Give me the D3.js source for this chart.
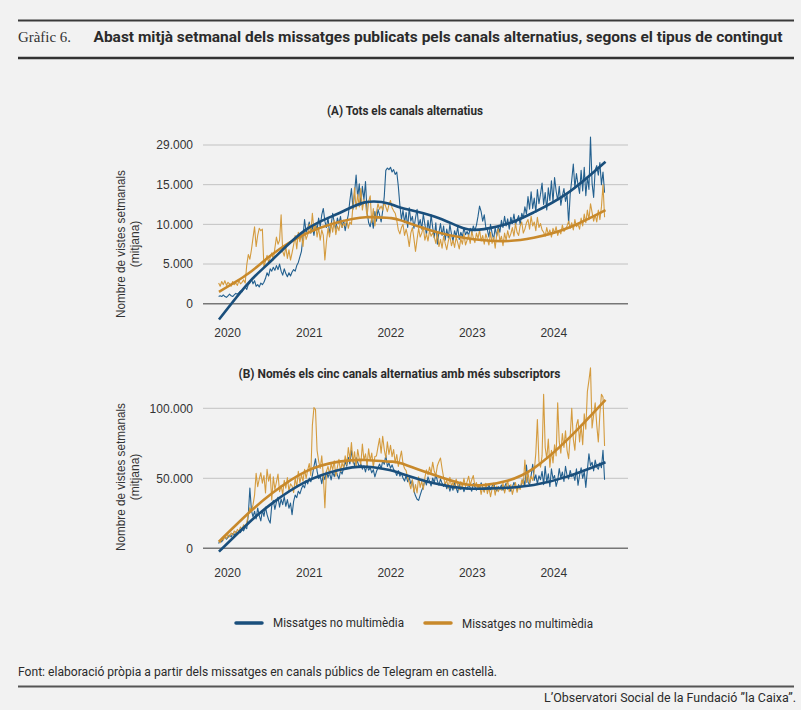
<!DOCTYPE html>
<meta charset="utf-8">
<style>
body { margin: 0; background: #f2f2f2; }
svg { display: block; }
.tick text { font-family: "Liberation Sans", Arial, sans-serif; font-size: 12px; fill: #333; }
</style>
<svg width="801" height="710"></svg>
<script src="https://d3js.org/d3.v7.min.js"></script>
<script>

// weekly series, values in thousands of views
var startDate = new Date(2019, 10, 24);
var years = [2020, 2021, 2022, 2023, 2024];

var yTicksA = [0, 5, 10, 15, 20];
var yLabelsA = ["0", "5.000", "10.000", "15.000", "29.000"];
var yTicksB = [0, 50, 100];
var yLabelsB = ["0", "50.000", "100.000"];

var seriesNames = ["Missatges no multimèdia", "Missatges no multimèdia"];

var aBlue = [0.9,1.0,0.9,1.1,0.9,0.8,1.0,1.2,1.0,0.9,1.1,1.3,1.2,
  1.4,1.6,1.5,1.9,2.1,1.8,2.4, 2.6,3.1,2.5,2.9,2.2,2.4,2.1,2.6,
  2.4,2.7,3.2,3.9,3.5,4.4,4.1,4.6,4.2, 4.8,4.3,5.0,4.1,3.6,4.4,3.8,3.4,3.9,3.5,
  4.0,4.3,4.1,4.8,5.2,5.9, 6.6,8.5,10.6,9.0, 9.5,10.3,8.9,9.8,8.6,10.1,9.3,10.8,9.7,
  11.2,12.0,10.4,9.6,10.9,8.8,9.9,11.4,10.2,9.4,10.8, 10.1,11.0,9.6,10.5,9.2,10.3,11.2,13.0,14.5,11.9,
  14.0,16.2,13.4,15.1,12.4,14.8,13.1,15.4,11.6,10.2, 9.7,10.8,9.5,11.6,10.4,11.9,
  11.2,10.3,11.7,13.5, 16.8,17.1,16.9,17.2,16.6,16.9,16.3,16.6, 14.8,12.4,10.6,
  11.8,10.2,11.5,9.6,12.1,10.4,11.0,9.5,10.8,11.9,9.8,10.6,
  9.4,11.3,10.0,8.7,10.5,9.1,11.2,9.6,8.3,10.2,7.5,9.0,10.1,
  8.6,9.8,8.0,9.4,8.3,10.0,8.8,7.9,9.2,8.5,9.7,8.1,9.0,8.4,9.6,8.7,
  9.1,8.6,9.5,8.9,9.8,9.2,9.9, 11.0,12.3,11.6,10.4,11.2,9.6, 9.3,8.4,10.0,8.9,8.1,9.6,8.5,9.8,9.0,
  10.5,9.6,11.0,9.8,10.7,9.4,10.9,10.1,11.3,9.9,10.6,11.1,10.0,11.4,
  10.8,12.2,11.3,13.5,11.9,14.1,12.0,13.3,11.5,14.4,12.6,
  13.8,15.2,12.5,14.0,11.8,14.6,13.0,15.5,12.8,15.9, 14.2,13.0,14.8,12.4,13.6,14.5,12.9,13.8,10.1,
  13.8,15.6,17.6,14.6,16.4,15.0,13.9,16.8, 14.2,17.2,13.6,16.0,14.4, 21.0,
  15.2,13.4,16.9,17.4,16.2,17.8,15.0,16.6,14.0];

var aGold = [2.6,2.2,2.8,2.4,2.9,2.3,2.7,2.5,2.2,2.8,2.4,2.6,2.3,2.9,2.5,2.7,3.0,2.6,
  4.9,6.2,5.6,6.8,8.3,9.7,7.2,8.6,9.5,9.2,9.4,4.6, 5.4,6.1,5.2,5.8,6.4,5.5,7.0,
  8.4,7.5,8.0,11.2,6.6, 6.0,7.2,5.7,6.8,5.5,6.4, 7.4,8.6,6.9,9.0,7.8,8.8,7.2,9.3,8.1,
  8.7,10.0,8.9,11.4,9.2, 10.1,8.4,9.6,8.0,9.3,8.6,5.5, 7.8,9.5,8.4,10.2,9.0,10.5,8.7,9.8,9.2,
  10.4,9.6,10.1,9.8,10.6,9.5,10.3,10.0, 12.4,14.6,11.9,13.8,12.2,14.5,11.8,13.1,
  12.6,11.0,12.9,13.6,10.2,12.0,9.8,11.5, 12.6,11.9,12.3,11.8,12.8,12.2,11.6,12.5,13.0,12.1,11.7,
  11.4,10.5,9.3,8.8,9.6, 10.0,8.6,9.4,8.5,7.2,8.9,9.6,8.2,
  6.6,8.1,9.5,8.4,8.9,9.7,8.0,8.8,7.9,9.2,8.5,8.9,
  8.4,7.6,8.9,7.2,8.1,7.0,8.5,7.6,6.8,7.9,8.6,7.3,8.0,7.1,8.4,7.7,6.9,8.2,7.5,8.8,7.4,
  8.0,8.7,7.6,9.1,8.3,7.7,8.9,8.2,9.3,7.9,8.6,7.5,8.8,
  8.1,7.4,9.0,7.6,8.4,7.0,8.8,9.4,7.9,8.5,7.3,8.9,8.0,9.2,8.3,
  8.8,9.6,8.5,10.1,9.0,8.6,9.8,10.3,8.9,9.4,10.2, 10.6,9.4,11.0,9.8,10.3,9.2,10.9,9.6,10.1,9.3,
  9.0,8.5,9.6,8.7,9.3,8.4,9.5,8.9,9.7,8.6,9.2,8.8,9.9,9.1,9.4,
  9.8,10.4,9.5,10.2,9.3,10.6,9.7,10.0,9.4, 10.8,9.8,11.3,10.2,11.8,10.6,12.6,11.5,
  10.4,11.2,10.3,11.8,10.6,12.2,15.0,10.9];

var bBlue = [3.5,5.8,4.6,6.9,8.2,6.5,7.8,9.4,8.1,10.5,9.2,11.8,10.4,12.6,11.2,13.9,12.5,15.2,14.0,
  24.0,43.0,27.0,22.5, 26.5,21.0,28.8,23.4,19.6,27.2,22.8,29.5,24.1,20.4,18.0,
  30.5,34.2,27.8,33.0,36.5,29.4,35.1,31.2,37.0,30.0,34.8,28.6,32.3,
  24.0,33.5,38.0,36.2,40.8,38.9, 42.5,45.0,43.2,48.5,46.0,50.2,
  47.5,52.0,58.5,64.0,55.2,49.8,51.5,46.2,
  52.8,49.0,55.0,50.6,53.9,48.8,54.6,51.2,56.0,52.4,49.5,55.4,53.0,
  57.5,61.8,58.6,65.0,60.2,70.0,62.4,59.0,64.8,61.5,58.2,
  60.2,56.5,58.8,54.6,59.5,55.8,57.6,53.9,56.2,51.0,54.8,
  57.5,60.2,56.8,62.5,60.0,66.5,58.4,61.0,57.2,59.6,56.4,
  54.8,52.0,55.5,51.5,53.6,50.2,48.0, 52.0,47.5,50.5,46.0,48.6, 41.0,37.5,35.0,34.2,38.0,41.5,44.0,
  48.5,45.2,51.0,47.8,44.5,50.2,46.8,53.0,48.2,45.0,49.6,46.4,44.2,
  46.8,42.5,45.5,40.8,44.6,41.5,47.0,43.2,39.8,45.8,42.0,44.5,40.5,43.8,
  42.0,45.5,43.2,40.8,46.2,44.0,41.5,45.0,42.6,46.8,43.5,40.6,44.8,42.2,45.6,41.8,44.2,46.5,42.9,40.9,44.0,42.5,
  45.2,41.5,43.8,46.5,42.2,44.9,40.8,43.5,47.0,44.0,41.6,45.5,43.0,
  46.2,49.5,44.8,59.5,47.2,45.5,52.0,60.0,48.5,52.5,46.0,51.8,49.0,
  55.0,45.5,58.5,47.0,53.2,44.0,56.8,49.5,52.0,
  44.2,48.5,57.0,50.2,54.5,47.8,58.6,52.0,49.5,55.6,51.2,
  53.0,48.5,56.8,45.0,52.2,57.5,50.0,54.8,43.5,
  56.0,67.5,59.0,61.5,55.2,63.0,58.0,56.5,61.0,57.5,70.0,49.0];

var bGold = [5.5,4.0,7.2,5.8,8.5,7.0,9.6,8.2,11.0,9.5,12.4,10.8,13.5,12.0,15.2,13.6,16.8,15.0,18.5,
  24.0,29.0,26.5,31.0, 38.0,53.5,44.0,49.5,54.0,46.5,52.0,39.5,56.5,48.0,53.0,34.5,
  51.0,42.0,47.5,53.0,40.5,45.0,38.5,48.5,43.0,50.5,41.0,46.0,
  44.5,39.8,50.2,43.5,55.0,46.8,52.5,48.0,56.5,50.0,
  55.8,60.5,52.0,88.0,100.5,99.0,70.0,62.5,57.0,66.0,52.0,29.0,55.0,58.5,
  53.0,60.5,56.0,62.5,51.5,58.0,63.5,55.0,61.0,57.5,
  66.0,59.5,72.0,63.5,75.5,61.0,69.0,58.5,70.5,64.0,
  60.0,74.5,63.0,67.5,59.0,71.0,62.5,68.0,58.0,65.5,
  66.0,72.5,78.5,68.0,80.0,70.5,64.5,76.0,67.0,73.5,
  65.5,70.5,61.0,67.0,58.5,64.0,69.5,60.5,57.0,
  55.5,50.0,47.0,42.5,49.0,40.0,45.5,39.5,51.0,43.5,48.0,42.0,
  50.5,56.0,52.5,58.0,53.5,61.5,55.0,52.0,59.0,62.0,64.5,57.0,
  50.5,46.0,48.5,43.0,50.8,44.5,47.0,42.5,49.5,45.0,41.8,47.6,43.5,50.0,44.0,
  47.5,51.5,45.0,49.0,52.0,44.5,47.0,
  42.0,45.5,38.5,44.0,40.0,46.5,39.0,43.5,36.8,42.5,45.0,38.0,44.5,40.5,43.0,
  41.5,46.5,39.5,44.0,48.5,40.5,45.5,38.5,43.0,47.0,40.0,44.5,42.0,
  49.0,45.5,63.0,47.0,54.0,46.5,51.5,48.5,
  55.0,68.0,92.0,62.0,58.0,66.0,110.0,72.0,64.0,78.0,58.0,70.0,61.0,74.0,66.0,104.0,76.0,68.0,82.0,72.0,
  84.0,70.0,64.0,80.0,100.0,78.0,70.0,88.0,92.0,76.0,88.0,74.0,96.0,85.0,112.0,120.0,129.0,86.0,95.0,104.0,
  88.0,76.0,96.0,110.0,108.0,73.0];

// smoothed trends, read at these decimal years
var trendYears = [2019.90, 2020.26, 2020.55, 2020.96, 2021.37, 2021.70, 2021.99, 2022.13,
  2022.54, 2022.90, 2023.15, 2023.45, 2023.76, 2024.17, 2024.64];
var aBlueTrend = [-2.0, 2.6, 5.5, 9.3, 11.4, 12.8, 12.6, 12.1, 11.0, 9.5, 9.4, 10.1, 11.5, 13.9, 17.9];
var aGoldTrend = [1.5, 3.8, 6.2, 8.8, 10.3, 10.9, 10.8, 10.5, 9.1, 8.3, 8.0, 7.9, 8.3, 9.5, 11.8];
var bBlueTrend = [-2.4, 17.9, 32.1, 47.4, 55.9, 58.3, 55.9, 53.5, 46.4, 42.9, 42.6, 43.3, 45.2, 51.2, 61.5];
var bGoldTrend = [4.8, 25.0, 39.3, 54.8, 61.9, 63.1, 61.9, 60.7, 52.3, 46.0, 45.2, 48.5, 57.1, 77.4, 106.0];

var blue = "#23608f", blueDark = "#1a4f7c", gold = "#d49b3e", goldDark = "#c8892b";

var svg = d3.select("svg");
var font = "Roboto, 'Liberation Sans', sans-serif";

function weekDate(i) { return d3.timeDay.offset(startDate, 7 * i); }
function yearDate(y) {
  var yr = Math.floor(y), s = new Date(yr, 0, 1), e = new Date(yr + 1, 0, 1);
  return new Date(+s + (y - yr) * (e - s));
}

var x = d3.scaleTime()
  .domain([new Date(2019, 8, 15), new Date(2024, 11, 1)])
  .range([203, 628]);

// header
svg.append("line").attr("x1", 18).attr("x2", 794).attr("y1", 20.5).attr("y2", 20.5)
  .attr("stroke", "#3a3a3a").attr("stroke-width", 2);
svg.append("line").attr("x1", 18).attr("x2", 794).attr("y1", 58).attr("y2", 58)
  .attr("stroke", "#333").attr("stroke-width", 2.5);
svg.append("text").attr("x", 18).attr("y", 42)
  .attr("font-family", "'Liberation Serif', serif").attr("font-size", 15.5).attr("fill", "#333")
  .attr("textLength", 53).attr("lengthAdjust", "spacingAndGlyphs")
  .text("Gràfic 6.");
svg.append("text").attr("x", 93.5).attr("y", 42)
  .attr("font-family", font).attr("font-weight", "bold").attr("font-size", 14).attr("fill", "#2b2b2b")
  .attr("textLength", 689).attr("lengthAdjust", "spacingAndGlyphs")
  .text("Abast mitjà setmanal dels missatges publicats pels canals alternatius, segons el tipus de contingut");

function drawPanel(p) {
  var y = d3.scaleLinear().domain(p.domain).range(p.range);
  var g = svg.append("g");

  g.selectAll(".grid").data(p.ticks).enter().append("line")
    .attr("x1", 203).attr("x2", 628)
    .attr("y1", function(d) { return y(d); }).attr("y2", function(d) { return y(d); })
    .attr("stroke", function(d) { return d === 0 ? "#777" : "#c2c2c2"; })
    .attr("stroke-width", function(d) { return d === 0 ? 1.5 : 1; });

  g.selectAll(".ylab").data(p.ticks).enter().append("text")
    .attr("x", 193).attr("y", function(d) { return y(d); }).attr("dy", "0.36em")
    .attr("text-anchor", "end")
    .attr("font-family", "'Liberation Sans', Arial, sans-serif").attr("font-size", 12).attr("fill", "#333")
    .text(function(d, i) { return p.labels[i]; });

  var ax = g.append("g").attr("transform", "translate(0," + p.yearY + ")")
    .call(d3.axisBottom(x)
      .tickValues(years.map(function(d) { return new Date(d, 0, 1); }))
      .tickFormat(d3.timeFormat("%Y")).tickSize(0).tickPadding(3));
  ax.select(".domain").remove();

  [["Nombre de vistes setmanals", 125, 148], ["(mitjana)", 139, null]].forEach(function(t) {
    var tx = g.append("text")
      .attr("transform", "translate(" + t[1] + "," + p.labelY + ") rotate(-90)")
      .attr("text-anchor", "middle")
      .attr("font-family", "'Liberation Sans', Arial, sans-serif").attr("font-size", 12).attr("fill", "#333")
      .text(t[0]);
    if (t[2]) tx.attr("textLength", t[2]).attr("lengthAdjust", "spacingAndGlyphs");
  });

  g.append("text").attr("x", p.titleX).attr("y", p.titleY).attr("text-anchor", "middle")
    .attr("font-family", font).attr("font-weight", "bold").attr("font-size", 12).attr("fill", "#2b2b2b")
    .attr("textLength", p.titleW).attr("lengthAdjust", "spacingAndGlyphs")
    .text(p.title);

  var line = d3.line()
    .x(function(d, i) { return x(weekDate(i)); })
    .y(function(d) { return y(d); });
  var trend = d3.line()
    .x(function(d, i) { return x(yearDate(trendYears[i])); })
    .y(function(d) { return y(d); })
    .curve(d3.curveNatural);

  g.append("path").datum(p.blue).attr("d", line)
    .attr("fill", "none").attr("stroke", blue).attr("stroke-width", 1.1).attr("stroke-linejoin", "round");
  g.append("path").datum(p.gold).attr("d", line)
    .attr("fill", "none").attr("stroke", gold).attr("stroke-width", 1.1).attr("stroke-linejoin", "round");
  g.append("path").datum(p.goldTrend).attr("d", trend)
    .attr("fill", "none").attr("stroke", goldDark).attr("stroke-width", 2.6);
  g.append("path").datum(p.blueTrend).attr("d", trend)
    .attr("fill", "none").attr("stroke", blueDark).attr("stroke-width", 2.6);
}

drawPanel({
  domain: [0, 20], range: [303.7, 145], ticks: yTicksA, labels: yLabelsA,
  yearY: 325, labelY: 244, title: "(A) Tots els canals alternatius", titleX: 405, titleY: 115, titleW: 156,
  blue: aBlue, gold: aGold, blueTrend: aBlueTrend, goldTrend: aGoldTrend
});
drawPanel({
  domain: [0, 100], range: [548.3, 408.3], ticks: yTicksB, labels: yLabelsB,
  yearY: 565, labelY: 477, title: "(B) Només els cinc canals alternatius amb més subscriptors", titleX: 399.5, titleY: 378, titleW: 322,
  blue: bBlue, gold: bGold, blueTrend: bBlueTrend, goldTrend: bGoldTrend
});

// legend
var legend = [
  { name: seriesNames[0], color: blueDark, x: 236, ty: 627 },
  { name: seriesNames[1], color: goldDark, x: 425, ty: 628 }
];
var lg = svg.selectAll(".legend").data(legend).enter().append("g");
lg.append("line")
  .attr("x1", function(d) { return d.x; }).attr("x2", function(d) { return d.x + 26; })
  .attr("y1", 623).attr("y2", 623)
  .attr("stroke", function(d) { return d.color; }).attr("stroke-width", 3.5).attr("stroke-linecap", "round");
lg.append("text")
  .attr("x", function(d) { return d.x + 37; }).attr("y", function(d) { return d.ty; })
  .attr("font-family", font).attr("font-size", 12.5).attr("fill", "#2b2b2b")
  .attr("textLength", 131).attr("lengthAdjust", "spacingAndGlyphs")
  .text(function(d) { return d.name; });

// footer
svg.append("text").attr("x", 18).attr("y", 676)
  .attr("font-family", font).attr("font-size", 12.5).attr("fill", "#2b2b2b")
  .attr("textLength", 479).attr("lengthAdjust", "spacingAndGlyphs")
  .text("Font: elaboració pròpia a partir dels missatges en canals públics de Telegram en castellà.");
svg.append("line").attr("x1", 18).attr("x2", 794).attr("y1", 686.5).attr("y2", 686.5)
  .attr("stroke", "#555").attr("stroke-width", 2);
svg.append("text").attr("x", 796).attr("y", 702).attr("text-anchor", "end")
  .attr("font-family", font).attr("font-size", 12.5).attr("fill", "#2b2b2b")
  .attr("textLength", 252).attr("lengthAdjust", "spacingAndGlyphs")
  .text("L’Observatori Social de la Fundació ”la Caixa”.");

</script>
